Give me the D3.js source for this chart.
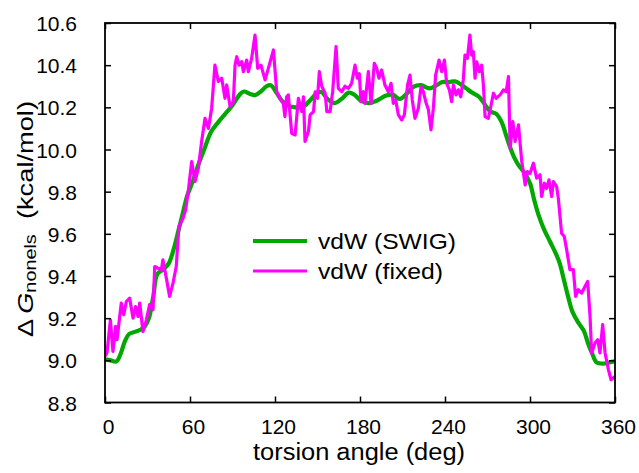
<!DOCTYPE html>
<html><head><meta charset="utf-8">
<script src="https://cdn.jsdelivr.net/npm/d3@7"></script>
<style>body{margin:0;background:#fff}svg{display:block}text{font-family:"Liberation Sans",Arial,Helvetica,sans-serif;fill:#000}</style>
</head><body><svg id="c" width="639" height="473"></svg>
<script>
const xTicks = [0, 60, 120, 180, 240, 300, 360];
const yTicks = [8.8, 9.0, 9.2, 9.4, 9.6, 9.8, 10.0, 10.2, 10.4, 10.6];
const seriesNames = ["vdW (SWIG)", "vdW (fixed)"];

const swigAngle = [0,4,8,11,14,17,21,25,28,31,34,37,41,45,49,52,55,58,62,66,70,75,80,85,90,95,98,102,106,110,114,117,121,125,130,135,140,145,150,153,157,162,167,172,176,181,186,192,198,203,208,213,218,223,229,233,238,243,247,251,255,259,264,268,272,276,280,283,286,289,292,296,300,303,306,310,314,318,321,324,327,330,334,338,341,344,347,350,353,356,360];
const swigValue = [9.005,9.0,8.995,9.03,9.09,9.125,9.135,9.145,9.16,9.2,9.3,9.41,9.43,9.46,9.54,9.62,9.70,9.78,9.85,9.93,10.0,10.085,10.13,10.17,10.21,10.26,10.275,10.265,10.258,10.275,10.3,10.305,10.27,10.23,10.205,10.2,10.203,10.235,10.27,10.272,10.24,10.22,10.24,10.27,10.26,10.23,10.22,10.232,10.255,10.26,10.24,10.265,10.298,10.305,10.29,10.3,10.32,10.32,10.323,10.31,10.29,10.27,10.25,10.215,10.18,10.17,10.13,10.07,10.01,9.96,9.925,9.89,9.84,9.76,9.69,9.62,9.565,9.51,9.46,9.38,9.30,9.23,9.18,9.14,9.08,9.03,8.99,8.985,8.985,8.99,8.995];

const fixedAngle = [0,1.4,3.8,5.6,7.5,8.5,11.5,13.2,15.1,17.4,19.8,21.6,23.3,24.5,26.8,29.2,31.5,33.9,35.1,37.4,39.8,40.9,43.3,45.6,48,50.3,52.2,55.1,56.9,58.6,61.2,63.5,65.9,68.2,70.6,73,75.3,77.6,80,82.4,84.7,85.9,88.3,90.6,91.8,93,94.6,96.5,97.7,100,101.2,103.5,105.9,107.8,110.1,113,115.3,118.9,121.2,123.5,125.9,127,128.2,129.4,131.8,134.2,136.5,138.9,140.1,141.2,143.6,144.8,147.2,148.4,150,151.3,153,155.4,156.6,158.9,160.7,163.1,164.7,167.1,169.4,171.8,174.1,176.5,178.1,179.5,180.7,182.4,183.5,185.9,187.8,190.1,191.8,193.4,195.3,197.6,200,201.9,203.5,205.2,207.1,209.4,211.3,213.6,215.3,216.9,218.8,221.2,223.1,224.7,226.4,228.3,230.1,231.8,233.4,235.8,237.7,239.6,241.2,243.1,244.7,245.9,247.8,249.4,251.1,252.9,254.1,255.8,257.6,258.8,260,261.2,262.4,264.2,265.9,267.1,268.3,270.6,272.3,274.2,276.1,278.9,281.3,283.2,284.8,286,287.9,289.5,291.9,293.1,294.2,296.6,298.2,300.1,302.4,304.7,307.1,308.2,310.1,311.7,313.4,315.3,316.5,318.8,320,322.3,324.2,325.9,328.2,330.6,332.2,334.1,336.5,338.8,340.7,342.4,343.5,345.9,347.8,349.4,351.3,353,355.4,357.2,360];
const fixedValue = [9.02,9.035,9.192,9.042,9.161,9.098,9.272,9.216,9.279,9.295,9.20,9.255,9.208,9.272,9.137,9.192,9.264,9.24,9.445,9.437,9.43,9.477,9.39,9.303,9.366,9.445,9.635,9.674,9.714,9.793,9.943,9.848,9.911,10.038,10.148,10.10,10.196,10.40,10.323,10.338,10.243,10.306,10.203,10.227,10.40,10.44,10.40,10.417,10.369,10.424,10.369,10.432,10.543,10.385,10.40,10.33,10.385,10.472,10.274,10.243,10.219,10.156,10.25,10.259,10.077,10.069,10.243,10.18,10.25,10.038,10.085,10.164,10.18,10.274,10.243,10.369,10.30,10.267,10.18,10.18,10.274,10.488,10.29,10.274,10.30,10.29,10.314,10.40,10.338,10.36,10.227,10.274,10.219,10.369,10.219,10.409,10.385,10.338,10.377,10.306,10.274,10.314,10.219,10.235,10.164,10.14,10.164,10.306,10.353,10.235,10.148,10.196,10.298,10.274,10.227,10.188,10.093,10.196,10.353,10.424,10.369,10.424,10.314,10.283,10.227,10.306,10.259,10.283,10.25,10.33,10.448,10.432,10.543,10.448,10.464,10.338,10.416,10.369,10.40,10.306,10.156,10.148,10.203,10.267,10.243,10.259,10.283,10.274,10.346,10.006,10.132,10.038,10.117,10.022,9.943,9.832,9.895,9.887,9.935,9.864,9.88,9.777,9.84,9.816,9.856,9.777,9.848,9.824,9.769,9.603,9.587,9.524,9.43,9.43,9.303,9.335,9.319,9.35,9.374,9.208,9.035,9.082,9.098,9.035,9.169,9.035,8.955,8.908,8.924];

const colors = ["#00a800", "#ff00ff"];

const svg = d3.select("#c");
const L = 105, R = 615, T = 23, B = 402.5;
const x = d3.scaleLinear().domain([0, 360]).range([L, R]);
const y = d3.scaleLinear().domain([8.8, 10.6]).range([B, T]);

const swig = swigAngle.map((a, i) => [a, swigValue[i]]);
const fixed = fixedAngle.map((a, i) => [a, fixedValue[i]]);

svg.append("clipPath").attr("id", "clip").append("rect")
  .attr("x", L).attr("y", T).attr("width", R - L).attr("height", B - T);

const g = svg.append("g").attr("clip-path", "url(#clip)");
g.append("path").datum(swig)
  .attr("d", d3.line().x(d => x(d[0])).y(d => y(d[1])).curve(d3.curveCatmullRom))
  .attr("fill", "none").attr("stroke", colors[0]).attr("stroke-width", 4.2).attr("stroke-linejoin", "round");
g.append("path").datum(fixed)
  .attr("d", d3.line().x(d => x(d[0])).y(d => y(d[1])))
  .attr("fill", "none").attr("stroke", colors[1]).attr("stroke-width", 3.2).attr("stroke-linejoin", "round");

// axes (inward ticks, all four sides)
const fmt = d3.format(".1f");
const axB = svg.append("g").attr("transform", `translate(0,${B})`)
  .call(d3.axisBottom(x).tickValues(xTicks).tickSizeInner(-6).tickSizeOuter(0).tickPadding(17).tickFormat(d3.format("d")));
const axT = svg.append("g").attr("transform", `translate(0,${T})`)
  .call(d3.axisTop(x).tickValues(xTicks).tickSizeInner(-6).tickSizeOuter(0).tickFormat(""));
const axL = svg.append("g").attr("transform", `translate(${L},0)`)
  .call(d3.axisLeft(y).tickValues(yTicks).tickSizeInner(-6).tickSizeOuter(0).tickPadding(28).tickFormat(fmt));
const axR = svg.append("g").attr("transform", `translate(${R},0)`)
  .call(d3.axisRight(y).tickValues(yTicks).tickSizeInner(-6).tickSizeOuter(0).tickFormat(""));
[axB, axT, axL, axR].forEach(a => {
  a.select(".domain").remove();
  a.selectAll("line").attr("stroke", "#000").attr("stroke-width", 1.5);
  a.selectAll("text").attr("font-family", '"Liberation Sans",Arial,sans-serif').attr("font-size", 21).attr("fill", "#000");
});
axB.selectAll("text").attr("dx", 3);
axL.selectAll("text").attr("dy", "0.36em");

svg.append("rect").attr("x", L).attr("y", T).attr("width", R - L).attr("height", B - T)
  .attr("fill", "none").attr("stroke", "#000").attr("stroke-width", 1.8);

// x label
svg.append("text").attr("x", 359).attr("y", 460).attr("text-anchor", "middle")
  .attr("font-size", 23).attr("textLength", 212).attr("lengthAdjust", "spacingAndGlyphs")
  .text("torsion angle (deg)");

// y label
const yl = svg.append("text").attr("transform", "translate(33,337) rotate(-90)")
  .attr("font-size", 22).attr("textLength", 236).attr("lengthAdjust", "spacingAndGlyphs");
yl.append("tspan").text("Δ");
yl.append("tspan").attr("font-style", "italic").attr("dx", 4).text("G");
yl.append("tspan").attr("font-size", 16).attr("dy", 3).text("nonels");
yl.append("tspan").attr("dy", -3).text("\u00a0\u00a0(kcal/mol)");

// legend
const leg = svg.append("g");
seriesNames.forEach((name, i) => {
  const ly = 241 + i * 30;
  leg.append("line").attr("x1", 253).attr("x2", 307).attr("y1", ly).attr("y2", ly)
    .attr("stroke", colors[i]).attr("stroke-width", i === 0 ? 4.2 : 3.2);
  leg.append("text").attr("x", 318).attr("y", ly + 8).attr("font-size", 22)
    .attr("textLength", i === 0 ? 138 : 125).attr("lengthAdjust", "spacingAndGlyphs").text(name);
});
</script></body></html>
